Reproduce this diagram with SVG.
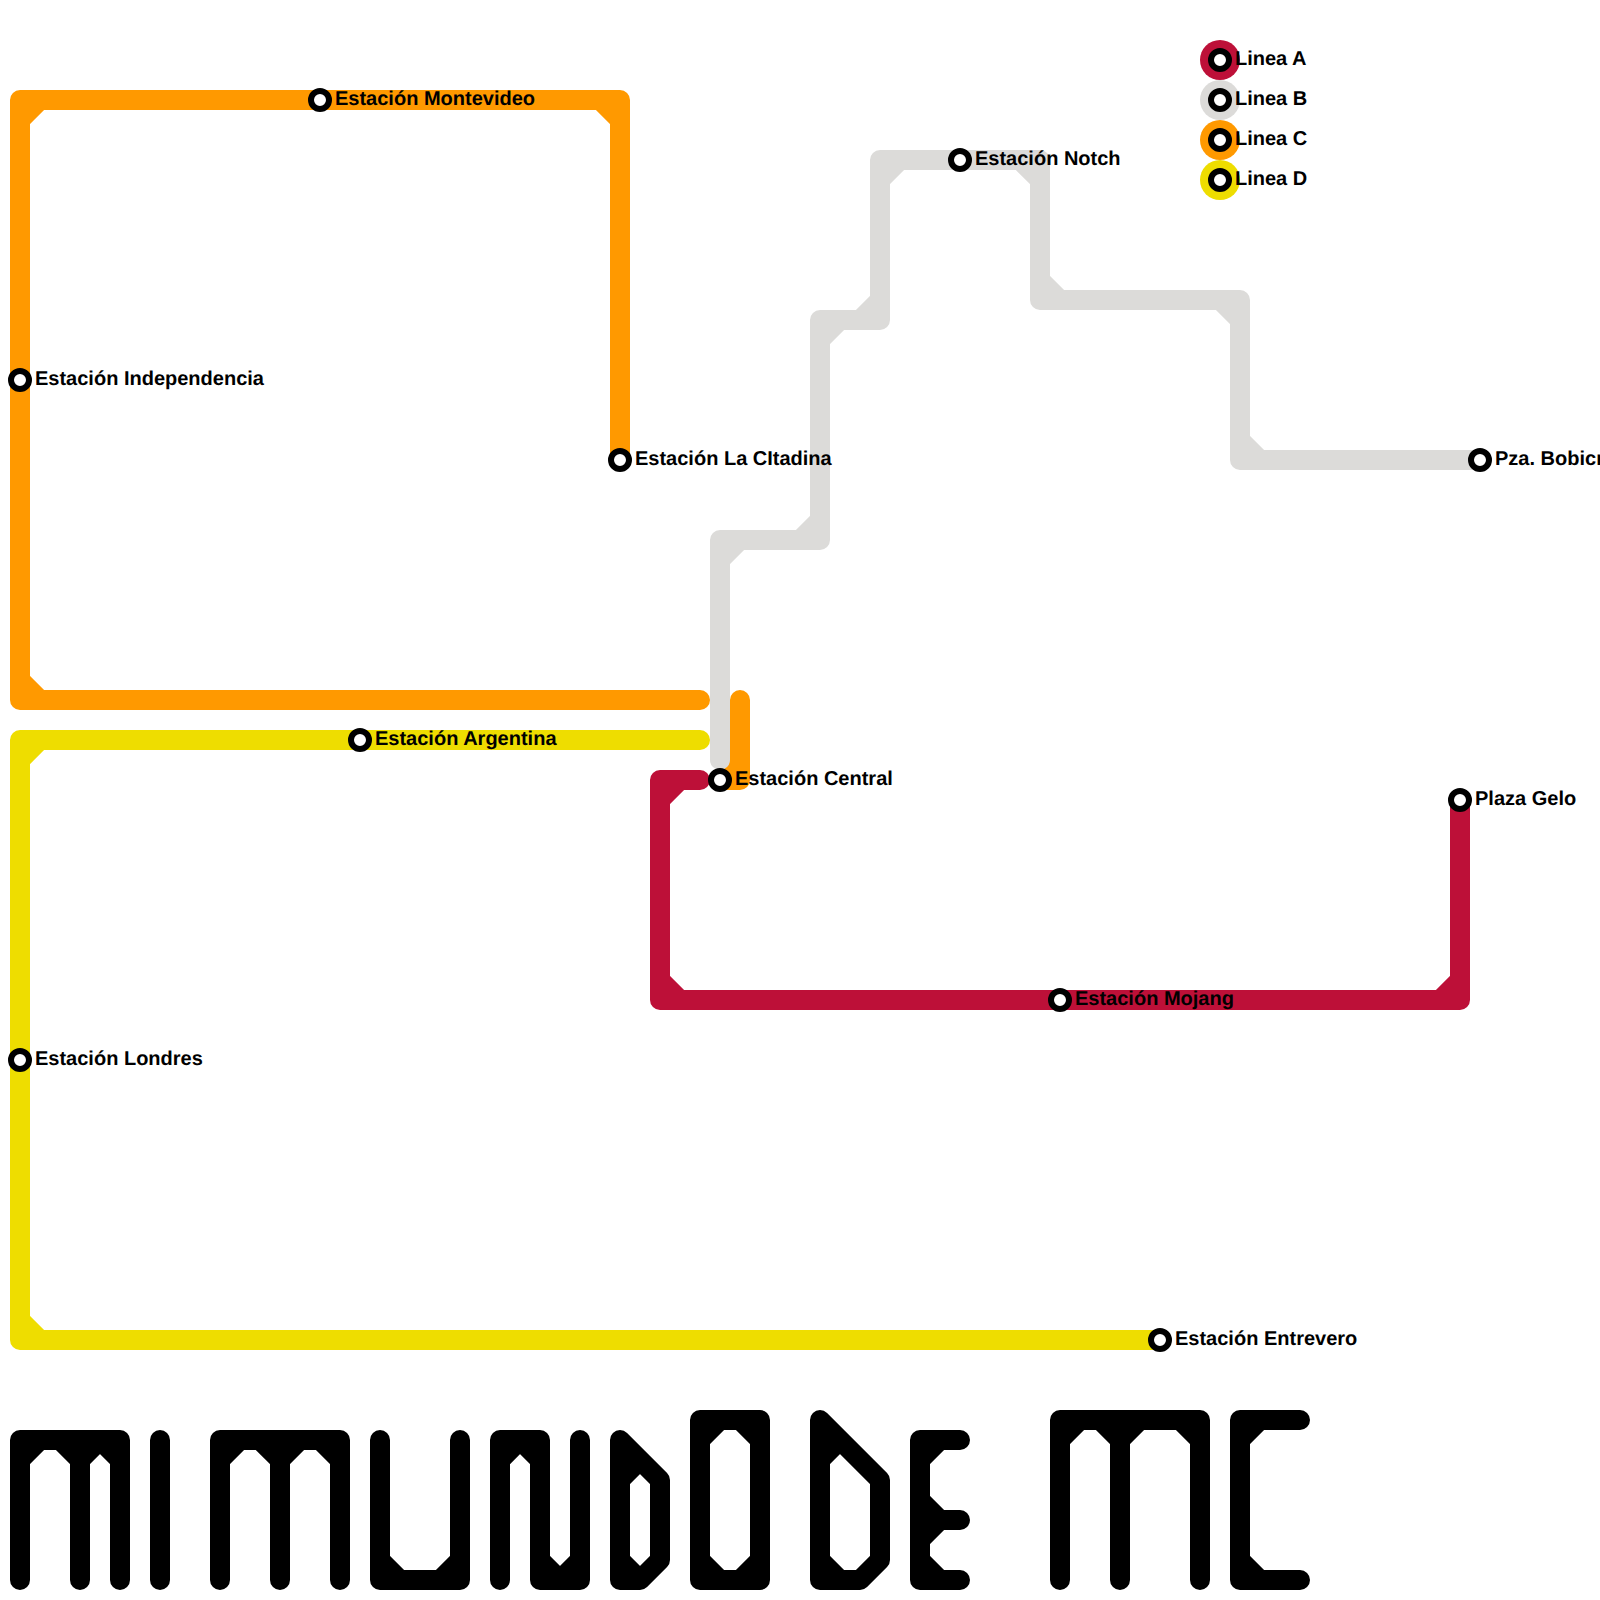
<svg xmlns="http://www.w3.org/2000/svg" width="1600" height="1600" viewBox="0 0 1600 1600">
<style>
.l{fill:none;stroke-width:20;stroke-linecap:round;stroke-linejoin:round}
.a{stroke:#bd1038}.b{stroke:#dcdbd9}.c{stroke:#ff9900}.d{stroke:#eedd00}.k{stroke:#000}
.st{fill:#fff;stroke:#000;stroke-width:6}
text{font-family:"Liberation Sans",Arial,sans-serif;font-weight:700;font-size:20px;fill:#000;text-rendering:geometricPrecision}
</style>
<rect width="1600" height="1600" fill="#fff"/>
<g id="connectors">
<path class="l c" d="M620 460V100H20V700H700M740 700V780H720M20 120L40 100M600 100L620 120M20 680L40 700M740 760L720 780"/>
<path class="l b" d="M720 760V540H820V320H880V160H1040V300H1240V460H1480M720 560L740 540M800 540L820 520M820 340L840 320M860 320L880 300M880 180L900 160M1020 160L1040 180M1040 280L1060 300M1220 300L1240 320M1240 440L1260 460"/>
<path class="l d" d="M700 740H20V1340H1160M20 760L40 740M20 1320L40 1340"/>
<path class="l a" d="M700 780H660V1000H1460V800M660 800L680 780M660 980L680 1000M1440 1000L1460 980"/>
</g>
<g id="title">
<path id="t-m1" class="l k" d="M20 1580V1440H120V1580M80 1440V1580M20 1460L40 1440M60 1440L80 1460M80 1460L100 1440M100 1440L120 1460"/>
<path id="t-i" class="l k" d="M160 1440V1580"/>
<path id="t-m2" class="l k" d="M220 1580V1440H340V1580M280 1440V1580M220 1460L240 1440M260 1440L280 1460M280 1460L300 1440M320 1440L340 1460"/>
<path id="t-u" class="l k" d="M380 1440V1580H460V1440M380 1560L400 1580M440 1580L460 1560"/>
<path id="t-n" class="l k" d="M500 1580V1440H540V1580H580V1440M500 1460L520 1440M520 1440L540 1460M540 1560L560 1580M560 1580L580 1560"/>
<path id="t-d" class="l k" d="M620 1440L660 1480V1560L640 1580H620ZM620 1480L640 1460M620 1560L640 1580"/>
<path id="t-o" class="l k" d="M700 1420H760V1580H700ZM700 1440L720 1420M740 1420L760 1440M700 1560L720 1580M740 1580L760 1560"/>
<path id="t-d2" class="l k" d="M820 1420L880 1480V1560L860 1580H820ZM820 1460L840 1440M820 1560L840 1580"/>
<path id="t-e" class="l k" d="M960 1440H920V1580H960M920 1520H960M920 1460L940 1440M920 1500L940 1520M920 1540L940 1520M920 1560L940 1580"/>
<path id="t-m3" class="l k" d="M1060 1580V1420H1200V1580M1120 1420V1580M1060 1440L1080 1420M1100 1420L1120 1440M1120 1440L1140 1420M1180 1420L1200 1440"/>
<path id="t-c" class="l k" d="M1300 1420H1240V1580H1300M1240 1440L1260 1420M1240 1560L1260 1580"/>
</g>
<g id="legend">
<g id="leg-a"><circle cx="1220" cy="60" r="20" fill="#bd1038"/><circle class="st" cx="1220" cy="60" r="9"/><text x="1235" y="65">Linea A</text></g>
<g id="leg-b"><circle cx="1220" cy="100" r="20" fill="#dcdbd9"/><circle class="st" cx="1220" cy="100" r="9"/><text x="1235" y="105">Linea B</text></g>
<g id="leg-c"><circle cx="1220" cy="140" r="20" fill="#ff9900"/><circle class="st" cx="1220" cy="140" r="9"/><text x="1235" y="145">Linea C</text></g>
<g id="leg-d"><circle cx="1220" cy="180" r="20" fill="#eedd00"/><circle class="st" cx="1220" cy="180" r="9"/><text x="1235" y="185">Linea D</text></g>
</g>
<g id="st-montevideo"><circle class="st" cx="320" cy="100" r="9"/><text x="335" y="105">Estación Montevideo</text></g>
<g id="st-independencia"><circle class="st" cx="20" cy="380" r="9"/><text x="35" y="385">Estación Independencia</text></g>
<g id="st-citadina"><circle class="st" cx="620" cy="460" r="9"/><text x="635" y="465">Estación La CItadina</text></g>
<g id="st-argentina"><circle class="st" cx="360" cy="740" r="9"/><text x="375" y="745">Estación Argentina</text></g>
<g id="st-central"><circle class="st" cx="720" cy="780" r="9"/><text x="735" y="785">Estación Central</text></g>
<g id="st-londres"><circle class="st" cx="20" cy="1060" r="9"/><text x="35" y="1065">Estación Londres</text></g>
<g id="st-mojang"><circle class="st" cx="1060" cy="1000" r="9"/><text x="1075" y="1005">Estación Mojang</text></g>
<g id="st-gelo"><circle class="st" cx="1460" cy="800" r="9"/><text x="1475" y="805">Plaza Gelo</text></g>
<g id="st-entrevero"><circle class="st" cx="1160" cy="1340" r="9"/><text x="1175" y="1345">Estación Entrevero</text></g>
<g id="st-notch"><circle class="st" cx="960" cy="160" r="9"/><text x="975" y="165">Estación Notch</text></g>
<g id="st-bobicraft"><circle class="st" cx="1480" cy="460" r="9"/><text x="1495" y="465">Pza. Bobicraft</text></g>
</svg>
